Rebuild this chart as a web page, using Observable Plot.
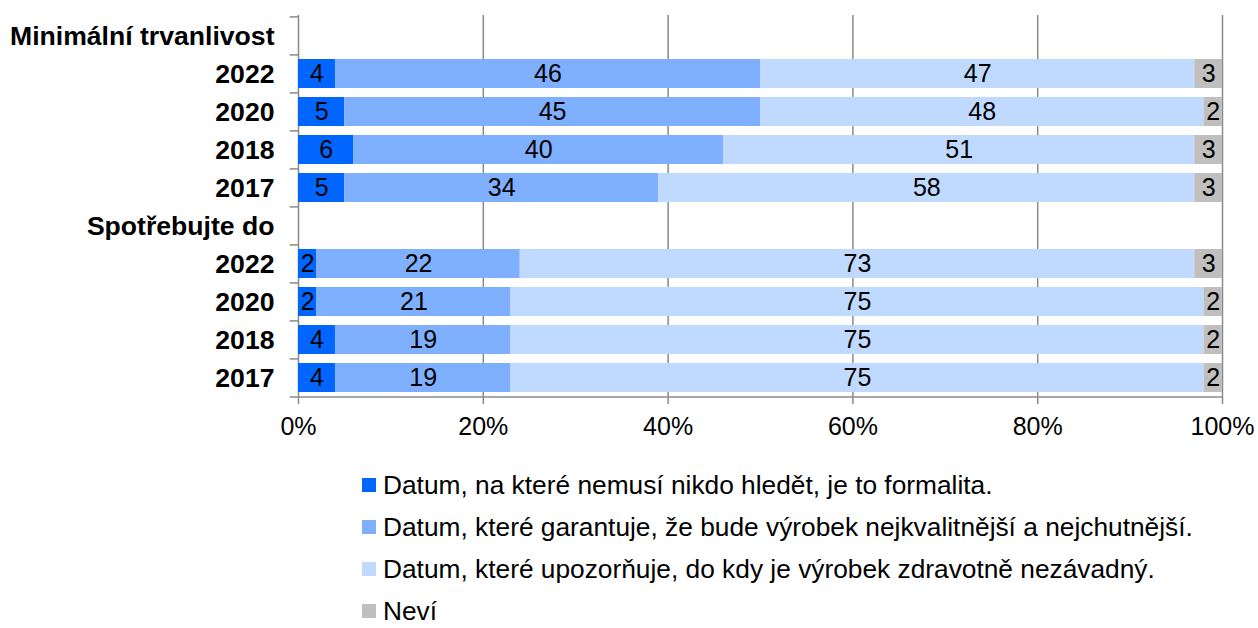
<!DOCTYPE html>
<html><head><meta charset="utf-8">
<script src="https://cdn.jsdelivr.net/npm/d3@7"></script>
<script src="https://cdn.jsdelivr.net/npm/@observablehq/plot@0.6"></script>
<style>
body{margin:0;background:#fff;font-family:"Liberation Sans",Arial,sans-serif;}
#wrap{position:relative;width:1258px;height:628px;overflow:hidden;}
#legend{position:absolute;left:362px;top:464px;}
.item{display:flex;align-items:center;height:42px;font-size:26.3px;color:#000;white-space:nowrap;}
.sw{width:14px;height:14px;margin-right:7px;flex:none;}
</style></head><body><div id="wrap"><div id="chart"></div><div id="legend"></div></div>
<script>
const groups = ["Minimální trvanlivost", "Spotřebujte do"];
const years = ["2022", "2020", "2018", "2017"];
const seriesNames = [
  "Datum, na které nemusí nikdo hledět, je to formalita.",
  "Datum, které garantuje, že bude výrobek nejkvalitnější a nejchutnější.",
  "Datum, které upozorňuje, do kdy je výrobek zdravotně nezávadný.",
  "Neví"
];
const colors = ["#0066FF", "#7FAFFF", "#C0DAFF", "#BFBFBF"];
const xTicks = [0, 20, 40, 60, 80, 100];
// values per series, rows: Minimální 2022,2020,2018,2017 then Spotřebujte 2022,2020,2018,2017
const formalita   = [4, 5, 6, 5, 2, 2, 4, 4];
const garantuje   = [46, 45, 40, 34, 22, 21, 19, 19];
const upozornuje  = [47, 48, 51, 58, 73, 75, 75, 75];
const nevi        = [3, 2, 3, 3, 3, 2, 2, 2];
const seriesValues = [formalita, garantuje, upozornuje, nevi];

const rowKeys = [];
const rowLabel = {};
groups.forEach((g, gi) => {
  rowKeys.push(g + "|");
  rowLabel[g + "|"] = g;
  years.forEach(y => { rowKeys.push(g + "|" + y); rowLabel[g + "|" + y] = y; });
});
const dataRows = [];
seriesNames.forEach((s, si) => {
  groups.forEach((g, gi) => {
    years.forEach((y, yi) => {
      dataRows.push({row: g + "|" + y, series: s, value: seriesValues[si][gi * years.length + yi]});
    });
  });
});

const W = 1258, H = 460, mt = 15, mb = 63;
const step = (H - mt - mb) / rowKeys.length;
const axisColor = "#8a8a8a";

const chart = Plot.plot({
  width: W, height: H,
  marginLeft: 298, marginRight: 36, marginTop: mt, marginBottom: mb,
  style: {fontFamily: "'Liberation Sans', Arial, sans-serif", fontSize: "25px", color: "#000", background: "#fff", overflow: "visible"},
  x: {domain: [0, 100]},
  y: {domain: rowKeys, paddingInner: 0.24, paddingOuter: 0.12},
  color: {domain: seriesNames, range: colors},
  marks: [
    Plot.ruleX(xTicks, {stroke: axisColor, strokeWidth: 1.5}),
    Plot.barX(dataRows, Plot.stackX({x: "value", y: "row", fill: "series", order: seriesNames})),
    Plot.text(dataRows, Plot.stackX({x: "value", y: "row", z: "series", text: d => String(d.value), order: seriesNames, fill: "#000", fontSize: 25})),
    Plot.ruleY(rowKeys, {y: d => d, x1: -0.9, x2: 0, dy: -step / 2, stroke: axisColor, strokeWidth: 1.5}),
    Plot.ruleY([rowKeys[rowKeys.length - 1]], {y: d => d, dy: step / 2, x1: -0.9, x2: 100, stroke: axisColor, strokeWidth: 1.5}),
    Plot.axisY({tickSize: 0, tickPadding: 24, tickFormat: d => rowLabel[d], fontWeight: "bold", fontSize: 26.6, label: null}),
    Plot.axisX({ticks: xTicks, tickFormat: d => d + "%", tickSize: 7, tickPadding: 13, stroke: axisColor, strokeWidth: 1.5, fill: "#000", fontSize: 25, label: null})
  ]
});
document.getElementById("chart").appendChild(chart);

const legend = document.getElementById("legend");
seriesNames.forEach((s, i) => {
  const it = document.createElement("div");
  it.className = "item";
  const sw = document.createElement("span");
  sw.className = "sw";
  sw.style.background = colors[i];
  const tx = document.createElement("span");
  tx.textContent = s;
  it.appendChild(sw); it.appendChild(tx);
  legend.appendChild(it);
});
</script></body></html>
